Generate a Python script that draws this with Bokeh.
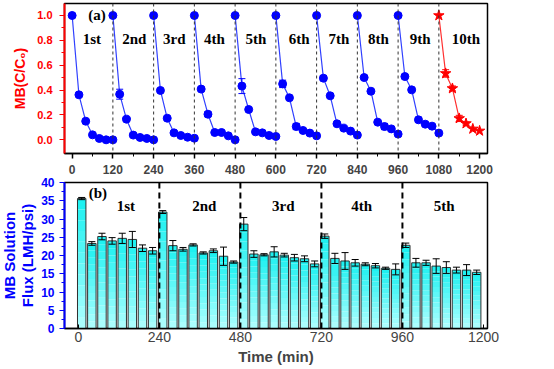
from bokeh.plotting import figure
from bokeh.layouts import column
from bokeh.models import (Range1d, Span, Whisker, ColumnDataSource, TeeHead,
                          FixedTicker, PrintfTickFormatter)
from bokeh.core.properties import value
from bokeh.embed import file_html
from bokeh.resources import INLINE

# ---------------- Panel (a): MB degradation, 10 cycles ----------------
cycle_labels_a = ["1st", "2nd", "3rd", "4th", "5th", "6th", "7th", "8th", "9th", "10th"]
cycle_start_a = [0, 120, 240, 360, 480, 600, 720, 840, 960, 1080]
sample_times_a = [0, 20, 40, 60, 80, 100, 120]
mb_ratio = [
    [1.0, 0.362, 0.150, 0.040, 0.011, 0.000, 0.000],
    [1.0, 0.367, 0.166, 0.038, 0.019, 0.011, 0.000],
    [1.0, 0.397, 0.174, 0.056, 0.035, 0.021, 0.013],
    [1.0, 0.408, 0.206, 0.059, 0.059, 0.032, 0.000],
    [1.0, 0.432, 0.244, 0.064, 0.056, 0.035, 0.027],
    [1.0, 0.450, 0.338, 0.107, 0.075, 0.054, 0.032],
    [1.0, 0.496, 0.354, 0.129, 0.094, 0.070, 0.038],
    [1.0, 0.501, 0.391, 0.142, 0.107, 0.088, 0.046],
    [1.0, 0.509, 0.402, 0.161, 0.126, 0.110, 0.054],
    [1.0, 0.534, 0.413, 0.172, 0.131, 0.088, 0.072],
]
mb_err = [
    [0, 0, 0, 0, 0, 0, 0],
    [0, 0.040, 0, 0, 0, 0, 0],
    [0, 0, 0, 0, 0, 0, 0],
    [0, 0, 0.020, 0, 0, 0, 0],
    [0, 0.060, 0, 0, 0, 0, 0],
    [0, 0.030, 0, 0.025, 0, 0, 0],
    [0, 0.020, 0, 0, 0, 0, 0],
    [0, 0, 0, 0, 0.025, 0, 0],
    [0, 0, 0, 0.020, 0, 0, 0],
    [0, 0.030, 0.020, 0.025, 0.012, 0, 0],
]

# ---------------- Panel (b): MB solution flux, 5 cycles ----------------
cycle_labels_b = ["1st", "2nd", "3rd", "4th", "5th"]
cycle_start_b = [0, 240, 480, 720, 960]
sample_times_b = [10, 40, 70, 100, 130, 160, 190, 220]
flux = [
    [35.6, 23.3, 25.2, 24.0, 24.7, 24.4, 22.0, 21.3],
    [31.9, 22.7, 21.7, 22.9, 20.7, 21.3, 19.8, 18.2],
    [28.6, 20.4, 20.2, 21.0, 20.1, 19.4, 19.1, 17.7],
    [25.3, 19.2, 18.5, 18.0, 17.6, 17.2, 16.5, 16.2],
    [22.8, 18.0, 18.0, 17.1, 16.7, 16.0, 16.0, 15.4],
]
flux_err = [
    [0.3, 0.5, 0.9, 0.9, 1.4, 2.2, 0.9, 0.9],
    [0.4, 1.4, 0.5, 0.3, 0.3, 0.5, 2.5, 0.3],
    [1.8, 0.9, 0.3, 1.4, 0.5, 0.9, 0.8, 0.8],
    [0.6, 1.4, 2.3, 0.9, 0.4, 0.6, 0.3, 1.5],
    [0.6, 1.2, 0.7, 2.0, 1.6, 0.8, 1.5, 0.6],
]

# annotation positions (layout, not data)
label_x_a = [58, 183, 301, 419, 541, 669, 786, 902, 1025, 1160]
label_x_b = [141, 373, 607, 839, 1084]

SANS = "Liberation Sans"
SERIF = "Liberation Serif"
BLUE = "#0000FF"
RED = "#FF0000"

# ======================= Top figure =======================
p1 = figure(width=546, height=176, x_range=Range1d(-22.5, 1223.3),
            y_range=Range1d(-0.110, 1.0965), output_backend="svg",
            toolbar_location=None, min_border_left=63, min_border_right=56,
            min_border_top=2, min_border_bottom=24)
p1.grid.visible = False
p1.outline_line_color = "black"
p1.outline_line_width = 1.5
p1.background_fill_color = "white"

xa = p1.xaxis[0]
xa.ticker = FixedTicker(ticks=cycle_start_a + [1200],
                        minor_ticks=[s + 60 for s in cycle_start_a])
xa.axis_line_color = "black"
xa.axis_line_width = 1.5
xa.major_tick_out = 5
xa.major_tick_in = 0
xa.minor_tick_out = 3
xa.minor_tick_in = 0
xa.major_tick_line_width = 1.5
xa.major_label_text_font = SANS
xa.major_label_text_font_style = "bold"
xa.major_label_text_font_size = "12px"
xa.major_label_standoff = 6

ya = p1.yaxis[0]
ya.ticker = FixedTicker(ticks=[0.0, 0.2, 0.4, 0.6, 0.8, 1.0],
                        minor_ticks=[0.1, 0.3, 0.5, 0.7, 0.9])
ya.formatter = PrintfTickFormatter(format="%.1f")
ya.axis_line_color = RED
ya.axis_line_width = 2
ya.major_tick_line_color = RED
ya.minor_tick_line_color = RED
ya.major_tick_out = 5
ya.major_tick_in = 0
ya.minor_tick_out = 3
ya.minor_tick_in = 0
ya.major_label_text_color = RED
ya.major_label_text_font = SANS
ya.major_label_text_font_style = "bold"
ya.major_label_text_font_size = "11px"
ya.major_label_standoff = 7
ya.axis_label = "MB(C/C\u2080)"
ya.axis_label_text_color = RED
ya.axis_label_text_font = SANS
ya.axis_label_text_font_style = "bold"
ya.axis_label_text_font_size = "14px"
ya.axis_label_standoff = 6

for s in cycle_start_a[1:]:
    p1.add_layout(Span(location=s, dimension="height", line_color="#333333",
                       line_width=1, line_dash="3 3"))

for c, start in enumerate(cycle_start_a):
    xs = [start + t for t in sample_times_a]
    ys = mb_ratio[c]
    last = c == len(cycle_start_a) - 1
    col = RED if last else BLUE
    p1.line(xs, ys, line_color="#FF3030" if last else "#3040FF", line_width=1.2)
    if last:
        p1.scatter(xs, ys, marker="star", size=11, fill_color=RED, line_color=RED)
    else:
        p1.scatter(xs, ys, marker="circle", size=8, fill_color=BLUE, line_color=BLUE)
    for x, y, e in zip(xs, ys, mb_err[c]):
        if e > 0:
            src = ColumnDataSource(dict(x=[x], u=[y + e], l=[y - e]))
            p1.add_layout(Whisker(source=src, base="x", upper="u", lower="l",
                                  line_color=col, line_width=1, level="overlay",
                                  upper_head=TeeHead(size=7, line_color=col, line_width=1),
                                  lower_head=TeeHead(size=7, line_color=col, line_width=1)))

p1.text(x=label_x_a, y=[0.807] * len(label_x_a), text=cycle_labels_a,
        text_font=value(SERIF), text_font_style="bold", text_font_size="15px",
        text_align="center", text_baseline="middle", text_color="black")
p1.text(x=[73], y=[1.0], text=["(a)"], text_font=value(SERIF),
        text_font_style="bold", text_font_size="15px", text_align="center",
        text_baseline="middle", text_color="black")

# ======================= Bottom figure =======================
p2 = figure(width=546, height=190, x_range=Range1d(-41, 1212),
            y_range=Range1d(0, 40), output_backend="svg",
            toolbar_location=None, min_border_left=63, min_border_right=57,
            min_border_top=5, min_border_bottom=35)
p2.grid.visible = False
p2.outline_line_color = "black"
p2.outline_line_width = 1.5

# gradient-filled bars built from the flux values
N = 12
top_rgb = (24, 240, 240)
bot_rgb = (176, 255, 255)
ql, qr, qb, qt, qc = [], [], [], [], []
bx, bv = [], []
ex, eu, el = [], [], []
bar_w = 25
for c, start in enumerate(cycle_start_b):
    for k, t in enumerate(sample_times_b):
        x = start + t
        v = flux[c][k]
        e = flux_err[c][k]
        bx.append(x); bv.append(v)
        ex.append(x); eu.append(v + e); el.append(v - e)
        for j in range(N):
            f = (j + 0.5) / N
            rgb = tuple(int(round(b + (tt - b) * f)) for b, tt in zip(bot_rgb, top_rgb))
            ql.append(x - bar_w / 2); qr.append(x + bar_w / 2)
            qb.append(v * j / N); qt.append(v * (j + 1) / N)
            qc.append("#%02x%02x%02x" % rgb)

p2.quad(left=ql, right=qr, bottom=qb, top=qt, fill_color=qc, line_color=None)
p2.vbar(x=bx, top=bv, width=bar_w, bottom=0, fill_color=None,
        line_color="#303030", line_width=1)

esrc = ColumnDataSource(dict(x=ex, u=eu, l=el))
p2.add_layout(Whisker(source=esrc, base="x", upper="u", lower="l",
                      line_color="black", line_width=1, level="overlay",
                      upper_head=TeeHead(size=7, line_color="black", line_width=1),
                      lower_head=TeeHead(size=7, line_color="black", line_width=1)))

for s in cycle_start_b[1:]:
    p2.add_layout(Span(location=s, dimension="height", line_color="black",
                       line_width=2, line_dash="6 4"))

xb = p2.xaxis[0]
xb.ticker = FixedTicker(ticks=cycle_start_b + [1200])
xb.axis_line_color = "black"
xb.axis_line_width = 1.5
xb.major_tick_out = 0
xb.major_tick_in = 4
xb.minor_tick_out = 0
xb.minor_tick_in = 0
xb.major_label_text_font = SANS
xb.major_label_text_font_size = "14px"
xb.major_label_standoff = 3
xb.axis_label = "Time (min)"
xb.axis_label_text_font = SANS
xb.axis_label_text_font_style = "bold"
xb.axis_label_text_font_size = "15px"
xb.axis_label_standoff = 3

yb = p2.yaxis[0]
yb.ticker = FixedTicker(ticks=[0, 5, 10, 15, 20, 25, 30, 35, 40],
                        minor_ticks=[2.5, 7.5, 12.5, 17.5, 22.5, 27.5, 32.5, 37.5])
yb.axis_line_color = BLUE
yb.axis_line_width = 2
yb.major_tick_line_color = BLUE
yb.minor_tick_line_color = BLUE
yb.major_tick_out = 5
yb.major_tick_in = 0
yb.minor_tick_out = 3
yb.minor_tick_in = 0
yb.major_label_text_color = BLUE
yb.major_label_text_font = SANS
yb.major_label_text_font_style = "bold"
yb.major_label_text_font_size = "12px"
yb.major_label_standoff = 5
yb.axis_label = "MB Solution\nFlux (LMH/psi)"
yb.axis_label_text_color = BLUE
yb.axis_label_text_font = SANS
yb.axis_label_text_font_style = "bold"
yb.axis_label_text_font_size = "15px"
yb.axis_label_text_line_height = 1.05
yb.axis_label_standoff = 2

p2.text(x=label_x_b, y=[33.6] * len(label_x_b), text=cycle_labels_b,
        text_font=value(SERIF), text_font_style="bold", text_font_size="15px",
        text_align="center", text_baseline="middle", text_color="black")
p2.text(x=[58], y=[37.0], text=["(b)"], text_font=value(SERIF),
        text_font_style="bold", text_font_size="15px", text_align="center",
        text_baseline="middle", text_color="black")

layout = column(p1, p2, styles={"position": "absolute", "top": "1px", "left": "-2px"})
open("out.html", "w").write(file_html(layout, INLINE))
